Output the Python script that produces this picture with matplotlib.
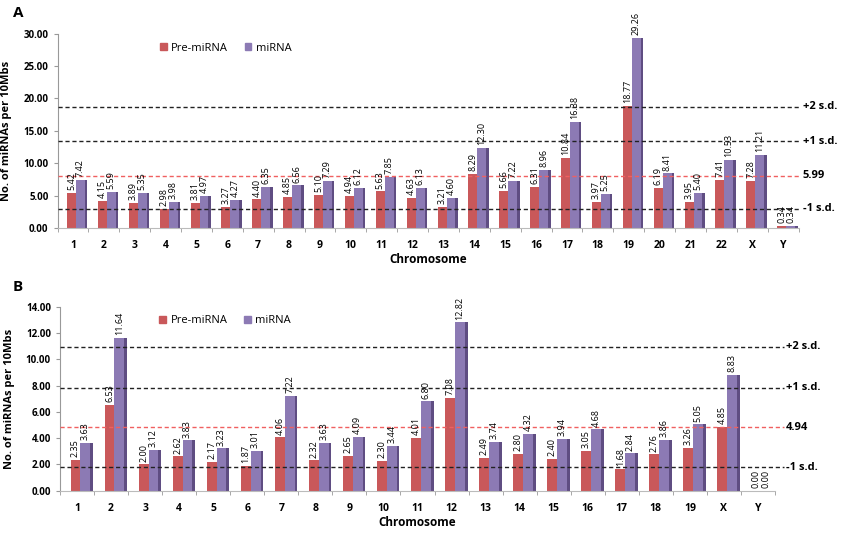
import numpy as np
import matplotlib
matplotlib.use("Agg")
import matplotlib.pyplot as plt
from matplotlib.patches import Patch
from matplotlib.transforms import blended_transform_factory

plt.rcParams['font.family'] = ['Open Sans', 'DejaVu Sans']

# panel A data
chrom_a = [str(i) for i in range(1, 23)] + ['X', 'Y']
pre_a = [5.42, 4.15, 3.89, 2.98, 3.81, 3.27, 4.40, 4.85, 5.10, 4.94, 5.63, 4.63,
         3.21, 8.29, 5.66, 6.31, 10.84, 3.97, 18.77, 6.19, 3.95, 7.41, 7.28, 0.34]
mi_a = [7.42, 5.59, 5.35, 3.98, 4.97, 4.27, 6.35, 6.56, 7.29, 6.12, 7.85, 6.13,
        4.60, 12.30, 7.22, 8.96, 16.38, 5.25, 29.26, 8.41, 5.40, 10.53, 11.21, 0.34]
# reference lines as drawn (position, label)
sd_a = [18.7, 13.4, 8.07, 2.98]
sd_lab_a = ['+2 s.d.', '+1 s.d.', '5.99', '-1 s.d.']

# panel B data
chrom_b = [str(i) for i in range(1, 20)] + ['X', 'Y']
pre_b = [2.35, 6.53, 2.00, 2.62, 2.17, 1.87, 4.06, 2.32, 2.65, 2.30, 4.01, 7.08,
         2.49, 2.80, 2.40, 3.05, 1.68, 2.76, 3.26, 4.85, 0.00]
mi_b = [3.63, 11.64, 3.12, 3.83, 3.23, 3.01, 7.22, 3.63, 4.09, 3.44, 6.80, 12.82,
        3.74, 4.32, 3.94, 4.68, 2.84, 3.86, 5.05, 8.83, 0.00]
sd_b = [10.97, 7.83, 4.83, 1.78]
sd_lab_b = ['+2 s.d.', '+1 s.d.', '4.94', '-1 s.d.']

RED = '#C9585A'
PURPLE = '#8C7AB4'
PURPLE_SIDE = '#5F4D82'

W, H = 843, 537
fig = plt.figure(figsize=(W / 100, H / 100), dpi=100)


def panel(rect, chrom, pre, mi, ymax, sd, sd_lab, letter, letter_y, lab_pad, line_end):
    l, t, r, b = rect
    ax = fig.add_axes([l / W, 1 - b / H, (r - l) / W, (b - t) / H])
    x = np.arange(len(chrom))
    w = 0.29
    off = 0.1
    ax.bar(x + off - w / 2, pre, w, color=RED, edgecolor='none', zorder=2)
    ax.bar(x + off + w / 2, mi, w, color=PURPLE, edgecolor='none', zorder=2)
    # fake 3d side face on the purple bars
    ax.bar(x + off + w + 0.04, mi, 0.08, color=PURPLE_SIDE, edgecolor='none', zorder=2)
    fs = 6.5
    for i in x:
        ax.text(i + off - w / 2, pre[i] + ymax * 0.015, '%.2f' % pre[i], rotation=90,
                ha='center', va='bottom', fontsize=fs, zorder=4)
        ax.text(i + off + w / 2, mi[i] + ymax * 0.015, '%.2f' % mi[i], rotation=90,
                ha='center', va='bottom', fontsize=fs, zorder=4)

    tr = blended_transform_factory(ax.transAxes, ax.transData)
    for k, (v, s) in enumerate(zip(sd, sd_lab)):
        c = '#F06060' if k == 2 else '#222222'
        ax.plot([0, line_end], [v, v], transform=tr, ls=(0, (3, 2)), lw=1.0,
                color=c, clip_on=False, zorder=3)
        ax.text(line_end + lab_pad, v, s, transform=tr, ha='left', va='center',
                fontsize=8, fontweight='bold')

    ax.set_xlim(-0.5, len(chrom) - 0.5)
    ax.set_ylim(0, ymax)
    ax.set_xticks(x)
    ax.set_xticklabels(chrom, fontsize=7.5, fontweight='bold')
    ax.set_xticks(np.arange(len(chrom) + 1) - 0.5, minor=True)
    ax.tick_params(axis='x', which='major', length=0, pad=9)
    ax.tick_params(axis='x', which='minor', length=3, color='#999999')
    ax.tick_params(axis='y', labelsize=7, length=3, color='#999999')
    for lab in ax.get_yticklabels():
        lab.set_fontweight('bold')
    ax.yaxis.set_major_formatter(matplotlib.ticker.FormatStrFormatter('%.2f'))
    for sp in ['top', 'right']:
        ax.spines[sp].set_visible(False)
    ax.spines['left'].set_color('#999999')
    ax.spines['bottom'].set_color('#BBBBBB')
    ax.set_xlabel('Chromosome', fontsize=8.5, fontweight='bold', labelpad=1)
    ax.set_ylabel('No. of miRNAs per 10Mbs', fontsize=8, fontweight='bold', labelpad=8)
    handles = [Patch(color=RED), Patch(color=PURPLE)]
    ax.legend(handles, ['Pre-miRNA', 'miRNA'], loc='center left', bbox_to_anchor=(0.125, 0.925),
              ncol=2, frameon=False, fontsize=8, handlelength=0.6, handleheight=0.6,
              columnspacing=1.5, handletextpad=0.4)
    fig.text(13 / W, 1 - letter_y / H, letter, fontsize=11, fontweight='bold', va='center')
    return ax


panel((57.5, 33.5, 798.5, 228), chrom_a, pre_a, mi_a, 30, sd_a, sd_lab_a, 'A', 13, 0.006, 1.0)
panel((60, 307, 775, 490.7), chrom_b, pre_b, mi_b, 14, sd_b, sd_lab_b, 'B', 287, 0.003, 1.012)

fig.savefig('out.png', dpi=100)
